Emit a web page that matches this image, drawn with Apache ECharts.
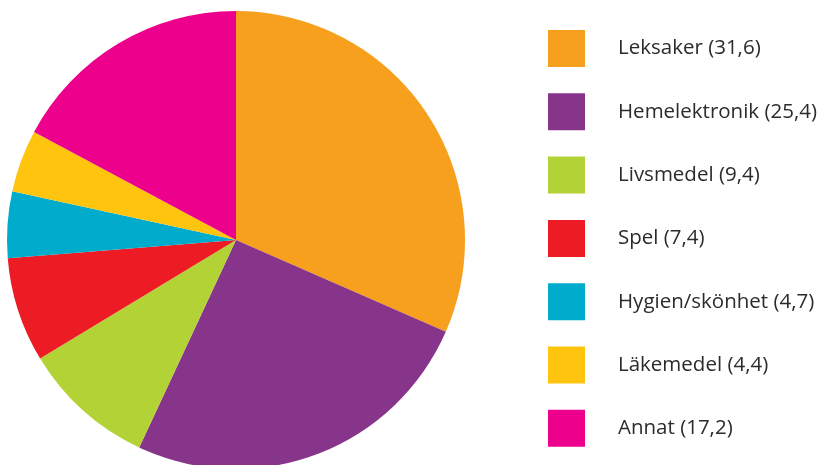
<!DOCTYPE html>
<html>
<head>
<meta charset="utf-8">
<script src="https://cdn.jsdelivr.net/npm/echarts@6/dist/echarts.min.js"></script>
<style>html,body{margin:0;padding:0;background:#fff;}#c{width:825px;height:465px;}</style>
</head>
<body>
<div id="c"></div>
<script>
const categories = ['Leksaker', 'Hemelektronik', 'Livsmedel', 'Spel', 'Hygien/skönhet', 'Läkemedel', 'Annat'];
const values = [31.6, 25.4, 9.4, 7.4, 4.7, 4.4, 17.2];
const colors = ['#F7A01D', '#87348B', '#B3D235', '#ED1C24', '#00ABCB', '#FEC40E', '#EC008C'];

const fmt = v => v.toFixed(1).replace('.', ',');
const data = categories.map((c, i) => ({ name: c, value: values[i], itemStyle: { color: colors[i] } }));

const chart = echarts.init(document.getElementById('c'), null, { renderer: 'canvas' });
chart.setOption({
  animation: false,
  legend: {
    orient: 'vertical',
    left: 548,
    top: 30,
    padding: 0,
    itemWidth: 37,
    itemHeight: 37,
    itemGap: 26.3,
    icon: 'rect',
    selectedMode: false,
    formatter: name => name + ' (' + fmt(values[categories.indexOf(name)]) + ')',
    textStyle: {
      fontFamily: 'Open Sans',
      fontSize: 20.5,
      color: '#2b2b2b',
      padding: [0, 0, 0, 28]
    }
  },
  series: [{
    type: 'pie',
    center: [236, 240],
    radius: 229,
    startAngle: 90,
    clockwise: true,
    label: { show: false },
    labelLine: { show: false },
    emphasis: { disabled: true },
    itemStyle: { borderWidth: 0 },
    data: data
  }]
});
</script>
</body>
</html>
